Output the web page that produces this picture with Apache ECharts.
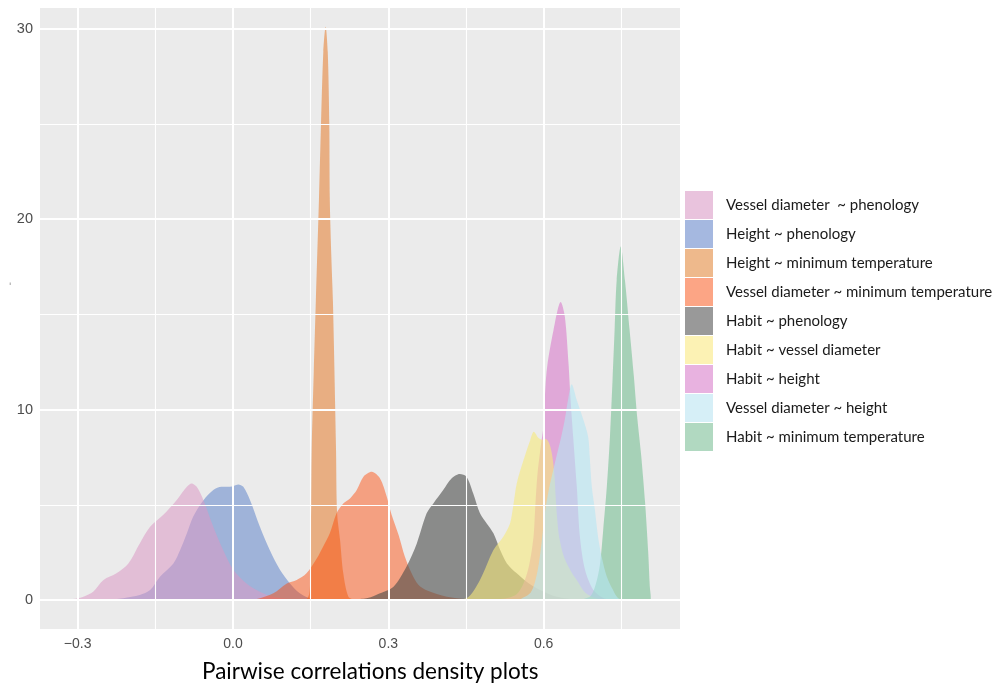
<!DOCTYPE html>
<html><head><meta charset="utf-8">
<script src="https://cdn.jsdelivr.net/npm/echarts@6/dist/echarts.min.js"></script>
<style>html,body{margin:0;padding:0;background:#fff}#c{width:1005px;height:688px}</style>
</head><body><div id="c"></div>
<script>
const seriesNames = [
  'Vessel diameter  ~ phenology',
  'Height ~ phenology',
  'Height ~ minimum temperature',
  'Vessel diameter ~ minimum temperature',
  'Habit ~ phenology',
  'Habit ~ vessel diameter',
  'Habit ~ height',
  'Vessel diameter ~ height',
  'Habit ~ minimum temperature'
];
const xTickValues = [-0.3, 0, 0.3, 0.6];
const xTickLabels = ['\u22120.3', '0.0', '0.3', '0.6'];
const xMinorGrid = [-0.15, 0.15, 0.45, 0.75];
const yTickValues = [0, 10, 20, 30];
const yTickLabels = ['0', '10', '20', '30'];
const yMinorGrid = [5, 15, 25];
const xTitle = 'Pairwise correlations density plots';

const vdPhen = [[-0.325,0],[-0.318,0.02],[-0.30,0.09],[-0.289,0.17],[-0.270,0.44],[-0.250,1.05],[-0.225,1.4],[-0.202,1.92],[-0.180,2.97],[-0.160,3.84],[-0.135,4.46],[-0.109,5.24],[-0.089,5.94],[-0.080,6.12],[-0.070,5.94],[-0.057,5.24],[-0.038,3.84],[-0.019,2.62],[0.001,1.57],[0.026,0.87],[0.052,0.44],[0.078,0.17],[0.116,0.03],[0.15,0]];
const htPhen = [[-0.24,0],[-0.212,0.09],[-0.180,0.26],[-0.160,0.52],[-0.141,1.22],[-0.115,1.92],[-0.102,2.62],[-0.089,3.50],[-0.077,4.37],[-0.057,5.24],[-0.038,5.77],[-0.022,5.94],[-0.006,5.94],[0.010,6.07],[0.020,5.94],[0.033,5.24],[0.052,3.84],[0.071,2.62],[0.091,1.57],[0.110,0.87],[0.129,0.35],[0.149,0.09],[0.19,0]];
const htMinT = [[0.13,0],[0.142,0.05],[0.147,0.3],[0.149,1],[0.150,3],[0.151,5],[0.152,7.9],[0.156,12],[0.160,15.7],[0.166,21],[0.170,25],[0.1745,28.8],[0.179,30.1],[0.183,28.8],[0.186,25],[0.187,21],[0.190,18],[0.193,15.7],[0.199,7.9],[0.201,4.6],[0.207,3.1],[0.213,1.4],[0.223,0.17],[0.235,0]];
const vdMinT = [[0.02,0],[0.046,0.05],[0.078,0.35],[0.104,0.87],[0.123,1.05],[0.142,1.40],[0.162,2.19],[0.174,2.80],[0.187,3.50],[0.200,4.55],[0.213,5.07],[0.226,5.33],[0.239,5.77],[0.252,6.47],[0.268,6.73],[0.284,6.38],[0.297,5.42],[0.306,4.5],[0.320,3.4],[0.332,2.27],[0.345,1.4],[0.358,0.8],[0.375,0.5],[0.413,0.17],[0.451,0.05],[0.50,0]];
const habPhen = [[0.22,0],[0.26,0.1],[0.284,0.35],[0.310,0.70],[0.335,1.75],[0.355,2.97],[0.374,4.55],[0.387,5.07],[0.406,5.77],[0.422,6.38],[0.438,6.61],[0.451,6.47],[0.464,5.59],[0.477,4.55],[0.490,4.02],[0.503,3.50],[0.516,2.62],[0.529,1.92],[0.548,1.40],[0.567,0.96],[0.593,0.52],[0.625,0.17],[0.67,0]];
const habVD = [[0.42,0],[0.451,0.09],[0.477,1.05],[0.503,2.62],[0.522,3.32],[0.535,4.02],[0.541,4.89],[0.548,6.12],[0.561,7.34],[0.574,8.39],[0.581,8.83],[0.590,8.5],[0.597,8.42],[0.604,8.45],[0.611,8.2],[0.617,7.5],[0.621,6.5],[0.623,5.5],[0.626,4.3],[0.630,3.3],[0.640,2.2],[0.655,1.4],[0.665,1.0],[0.68,0.4],[0.70,0.1],[0.72,0]];
const habHt = [[0.50,0],[0.53,0.1],[0.548,0.3],[0.560,0.8],[0.570,1.6],[0.577,2.6],[0.581,3.5],[0.584,5.0],[0.588,6.6],[0.594,8.0],[0.600,9.2],[0.603,11],[0.607,12.3],[0.619,14.16],[0.633,15.64],[0.641,14.86],[0.648,12.41],[0.652,10.5],[0.657,8.56],[0.664,5.94],[0.670,3.32],[0.680,1.57],[0.696,0.52],[0.715,0.1],[0.73,0]];
const vdHt = [[0.55,0],[0.575,0.4],[0.588,1.5],[0.596,3.0],[0.602,4.5],[0.610,5.8],[0.620,7.0],[0.628,7.9],[0.635,8.7],[0.641,9.5],[0.648,10.66],[0.654,11.33],[0.664,10.49],[0.677,9.44],[0.686,8.56],[0.689,7.51],[0.693,5.94],[0.699,4.72],[0.705,3.32],[0.712,2.27],[0.722,1.22],[0.734,0.52],[0.744,0.09],[0.76,0]];
const habMinT = [[0.66,0],[0.689,0.17],[0.701,0.87],[0.709,1.92],[0.715,3.67],[0.722,5.94],[0.728,8.56],[0.733,11.54],[0.737,14.16],[0.741,16.78],[0.749,18.56],[0.757,16.78],[0.766,14.16],[0.774,11.8],[0.781,9.5],[0.788,7.69],[0.796,5.07],[0.802,2.45],[0.805,0.70],[0.8065,0.3],[0.807,0]];

const seriesData = [vdPhen, htPhen, htMinT, vdMinT, habPhen, habVD, habHt, vdHt, habMinT];
const fillColors = ['rgba(219,153,197,0.55)','rgba(108,142,205,0.6)','rgba(230,133,60,0.6)','rgba(255,68,0,0.45)','rgba(73,75,73,0.6)','rgba(247,233,123,0.6)','rgba(217,123,203,0.6)','rgba(182,230,243,0.6)','rgba(120,192,148,0.6)'];
const legendColors = ['#E9C3DD','#A5B8E0','#EEB98C','#FCA585','#999999','#FCF2B4','#E8B2E0','#D6EFF7','#B1D9C1'];
// drawing order (later on top)
const drawOrder = [1, 0, 2, 3, 4, 6, 5, 8, 7];

const chart = echarts.init(document.getElementById('c'), null, {renderer: 'canvas'});

const gridSeries = {
  type: 'line', data: [], z: 1, silent: true, animation: false,
  markLine: {
    silent: true, symbol: ['none','none'], label: {show: false}, animation: false,
    emphasis: {disabled: true},
    data: [
      ...xTickValues.map(v => ({xAxis: v, lineStyle: {color: '#fff', width: 2, type: 'solid'}})),
      ...xMinorGrid.map(v => ({xAxis: v, lineStyle: {color: '#fff', width: 1.1, type: 'solid'}})),
      ...yTickValues.map(v => ({yAxis: v, lineStyle: {color: '#fff', width: 2, type: 'solid'}})),
      ...yMinorGrid.map(v => ({yAxis: v, lineStyle: {color: '#fff', width: 1.1, type: 'solid'}}))
    ]
  }
};

const areaSeries = drawOrder.map(i => ({
  name: seriesNames[i],
  type: 'line',
  data: seriesData[i],
  smooth: 0.3,
  showSymbol: false,
  symbol: 'none',
  z: 2,
  color: legendColors[i],
  lineStyle: {width: 0.01, color: 'rgba(0,0,0,0)'},
  areaStyle: {color: fillColors[i], opacity: 1},
  emphasis: {disabled: true},
  animation: false
}));

chart.setOption({
  animation: false,
  backgroundColor: '#ffffff',
  grid: {left: 40, top: 8, width: 640, height: 621, show: true, backgroundColor: '#EBEBEB', borderWidth: 0, containLabel: false},
  xAxis: {
    type: 'value', min: -0.3727, max: 0.8633,
    axisLine: {show: false},
    splitLine: {show: false},
    axisTick: {show: true, length: 4, customValues: xTickValues, lineStyle: {color: '#333333', width: 1.5}},
    axisLabel: {customValues: xTickValues, margin: 8, color: '#4D4D4D', fontSize: 14, fontFamily: 'Liberation Sans, Arial, sans-serif',
      formatter: v => { const k = xTickValues.findIndex(t => Math.abs(t - v) < 1e-9); return k >= 0 ? xTickLabels[k] : ''; }}
  },
  yAxis: {
    type: 'value', min: -1.522, max: 31.08,
    axisLine: {show: false},
    splitLine: {show: false},
    axisTick: {show: true, length: 4, customValues: yTickValues, lineStyle: {color: '#333333', width: 1.5}},
    axisLabel: {customValues: yTickValues, margin: 7, color: '#4D4D4D', fontSize: 14.5, fontFamily: 'Liberation Sans, Arial, sans-serif',
      formatter: v => { const k = yTickValues.findIndex(t => Math.abs(t - v) < 1e-9); return k >= 0 ? yTickLabels[k] : ''; }}
  },
  legend: {
    orient: 'vertical', left: 685, top: 191, padding: 0, itemWidth: 28, itemHeight: 28, itemGap: 1,
    icon: 'rect', selectedMode: false,
    textStyle: {color: '#1a1a1a', fontSize: 15, fontFamily: 'Lato, Open Sans, sans-serif', padding: [0,0,0,8]},
    data: seriesNames.map((n, i) => ({name: n, icon: 'rect', itemStyle: {color: legendColors[i], borderWidth: 0}}))
  },
  graphic: [
    {type: 'text', left: 202, top: 660, style: {text: xTitle, fill: '#000', fontSize: 22.5, fontFamily: 'Lato, Open Sans, sans-serif'}},
    {type: 'text', left: 9, top: 283, style: {text: '\u02C8', fill: '#555', fontSize: 8, fontFamily: 'DejaVu Sans'}}
  ],
  series: [gridSeries, ...areaSeries]
});
</script>
</body></html>
